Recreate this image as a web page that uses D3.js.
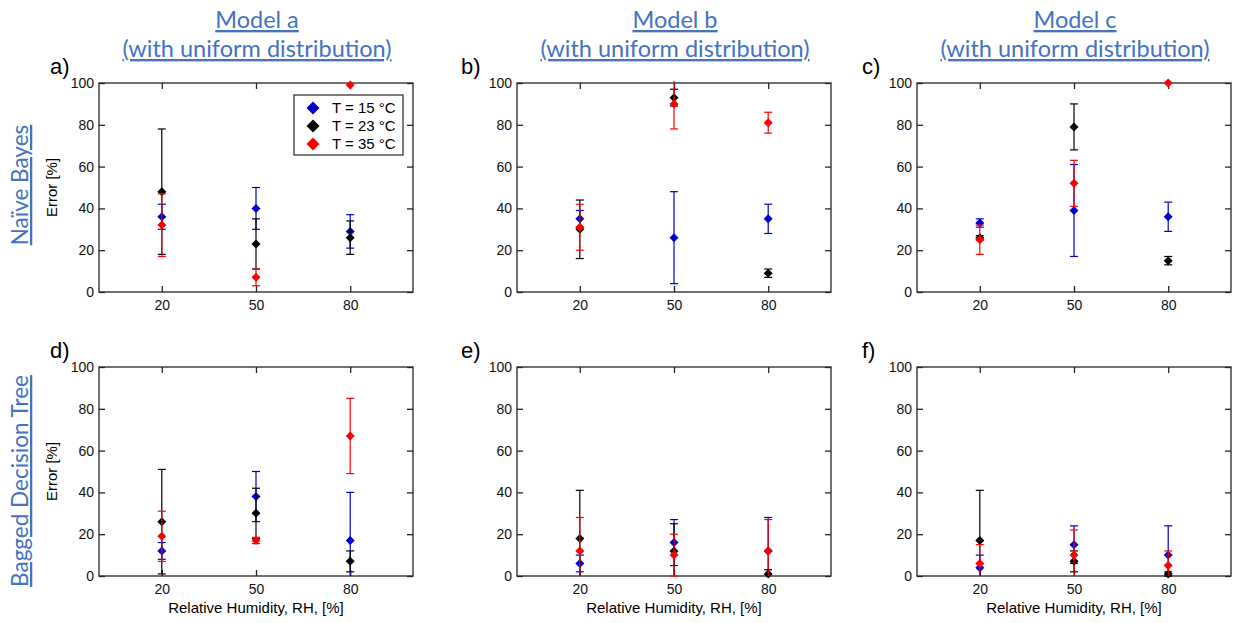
<!DOCTYPE html>
<html><head><meta charset="utf-8">
<script src="https://cdn.jsdelivr.net/npm/d3@7"></script>
<style>body{margin:0;background:#fff}</style>
</head><body>
<svg id="chart" width="1235" height="623"></svg>
<script>
const rh = [20, 50, 80]
const yTicks = [0, 20, 40, 60, 80, 100]
const temps = ["T = 15 °C", "T = 23 °C", "T = 35 °C"]
const colors = ["#0000cc", "#000000", "#ff0000"]
const models = ["Model a", "Model b", "Model c"]
const rows = ["Naïve Bayes", "Bagged Decision Tree"]
const letters = ["a)", "b)", "c)", "d)", "e)", "f)"]

// mean error [%] per temperature (15, 23, 35 °C) at RH 20/50/80, and +- spread
const aMean = [[36, 40, 29], [48, 23, 26], [32, 7, 99]]
const aErr  = [[6, 10, 8], [30, 12, 8], [15, 4, 0]]
const bMean = [[35, 26, 35], [30, 93, 9], [31, 90, 81]]
const bErr  = [[4, 22, 7], [14, 4, 2], [11, 12, 5]]
const cMean = [[33, 39, 36], [26, 79, 15], [25, 52, 100]]
const cErr  = [[2, 22, 7], [1, 11, 2], [7, 11, 0]]
const dMean = [[12, 38, 17], [26, 30, 7], [19, 17, 67]]
const dErr  = [[4, 12, 23], [25, 12, 5], [12, 1.5, 18]]
const eMean = [[6, 16, 12], [18, 12, 1], [12, 10, 12]]
const eErr  = [[4, 11, 16], [23, 13, 2], [16, 10, 15]]
const fMean = [[4, 15, 10], [17, 7, 1], [6, 10, 5]]
const fErr  = [[6, 9, 14], [24, 5, 1], [9, 12, 7]]

const panels = [[aMean, aErr], [bMean, bErr], [cMean, cErr],
                [dMean, dErr], [eMean, eErr], [fMean, fErr]]

const lefts = [99, 517, 917]
const tops = [83, 367]
const letterDx = [-49, -56, -55]
const W = 314, H = 209
const blueTitle = "#4472c4"
const sans = "'Liberation Sans', Arial, sans-serif"
const calib = "Lato, 'Open Sans', sans-serif"

const svg = d3.select("#chart")
const x = d3.scaleLinear().domain([0, 100]).range([0, W])
const y = d3.scaleLinear().domain([0, 100]).range([H, 0])

function diamond(r) {
  return "M0," + (-r) + "L" + r + ",0L0," + r + "L" + (-r) + ",0Z"
}

// column titles
models.forEach(function(m, i) {
  const cx = lefts[i] + W / 2 + 1
  const t = svg.append("text")
    .attr("text-anchor", "middle")
    .style("font-family", calib)
    .style("font-size", "23.5px")
    .style("fill", blueTitle)
    .style("text-decoration", "underline")
  t.append("tspan").attr("x", cx).attr("y", 28).text(m)
  t.append("tspan").attr("x", cx).attr("y", 57).text("(with uniform distribution)")
})

// row titles
const rowCy = [185, 481]
rows.forEach(function(r, i) {
  svg.append("text")
    .attr("transform", "translate(28," + rowCy[i] + ") rotate(-90)")
    .attr("text-anchor", "middle")
    .style("font-family", calib)
    .style("font-size", "22.5px")
    .style("fill", blueTitle)
    .style("text-decoration", "underline")
    .text(r)
})

for (let p = 0; p < 6; p++) {
  const col = p % 3, row = Math.floor(p / 3)
  const mean = panels[p][0], err = panels[p][1]
  const g = svg.append("g").attr("transform", "translate(" + lefts[col] + "," + tops[row] + ")")

  // panel letter
  svg.append("text")
    .attr("x", lefts[col] + letterDx[col])
    .attr("y", tops[row] - 9)
    .style("font-family", sans)
    .style("font-size", "22px")
    .text(letters[p])

  // axes, MATLAB style ticks pointing in
  const left = g.append("g").call(d3.axisLeft(y).tickValues(yTicks).tickSize(-6).tickPadding(5))
  const right = g.append("g").attr("transform", "translate(" + W + ",0)")
    .call(d3.axisRight(y).tickValues(yTicks).tickSize(-6).tickFormat(""))
  const top = g.append("g").call(d3.axisTop(x).tickValues(rh).tickSize(-6).tickFormat(""))
  const bottom = g.append("g").attr("transform", "translate(0," + H + ")")
    .call(d3.axisBottom(x).tickValues(rh).tickSize(-6).tickPadding(8))
  ;[left, right, top, bottom].forEach(function(a) {
    a.select(".domain").remove()
    a.selectAll("line").attr("stroke", "#262626").attr("stroke-width", 1.3)
    a.selectAll("text").style("font-family", sans)
      .style("font-size", "14px").style("fill", "#111")
  })
  g.append("rect").attr("width", W).attr("height", H)
    .attr("fill", "none").attr("stroke", "#262626").attr("stroke-width", 1.3)

  if (col == 0) {
    svg.append("text")
      .attr("transform", "translate(" + 57 + "," + (tops[row] + H / 2) + ") rotate(-90)")
      .attr("text-anchor", "middle")
      .style("font-family", sans)
      .style("font-size", "15px")
      .text("Error [%]")
  }
  if (row == 1) {
    svg.append("text")
      .attr("x", lefts[col] + W / 2).attr("y", 613)
      .attr("text-anchor", "middle")
      .style("font-family", sans)
      .style("font-size", "15px")
      .text("Relative Humidity, RH, [%]")
  }

  // error bars and markers, series in order blue, black, red
  for (let s = 0; s < 3; s++) {
    const sg = g.append("g")
    rh.forEach(function(v, k) {
      const m = mean[s][k], e = err[s][k]
      const lo = Math.max(0, m - e), hi = Math.min(101, m + e)
      const xc = x(v)
      if (e > 0) {
        sg.append("line").attr("x1", xc).attr("x2", xc).attr("y1", y(lo)).attr("y2", y(hi))
          .attr("stroke", colors[s]).attr("stroke-width", 1.2)
        if (m - e >= 0)
          sg.append("line").attr("x1", xc - 4).attr("x2", xc + 4).attr("y1", y(lo)).attr("y2", y(lo))
            .attr("stroke", colors[s]).attr("stroke-width", 1.2)
        if (m + e <= 100)
          sg.append("line").attr("x1", xc - 4).attr("x2", xc + 4).attr("y1", y(hi)).attr("y2", y(hi))
            .attr("stroke", colors[s]).attr("stroke-width", 1.2)
      }
      sg.append("path").attr("d", diamond(4.5))
        .attr("transform", "translate(" + xc + "," + y(m) + ")")
        .attr("fill", colors[s])
    })
  }

  // legend in panel a
  if (p == 0) {
    const lg = g.append("g").attr("transform", "translate(195,12)")
    lg.append("rect").attr("width", 109).attr("height", 60)
      .attr("fill", "#fff").attr("stroke", "#262626").attr("stroke-width", 1.2)
    temps.forEach(function(t, i) {
      lg.append("path").attr("d", diamond(6.5))
        .attr("transform", "translate(19," + (13 + i * 18) + ")")
        .attr("fill", colors[i])
      lg.append("text").attr("x", 38).attr("y", 13 + i * 18).attr("dy", "0.35em")
        .style("font-family", sans)
        .style("font-size", "15px")
        .text(t)
    })
  }
}
</script>
</body></html>
